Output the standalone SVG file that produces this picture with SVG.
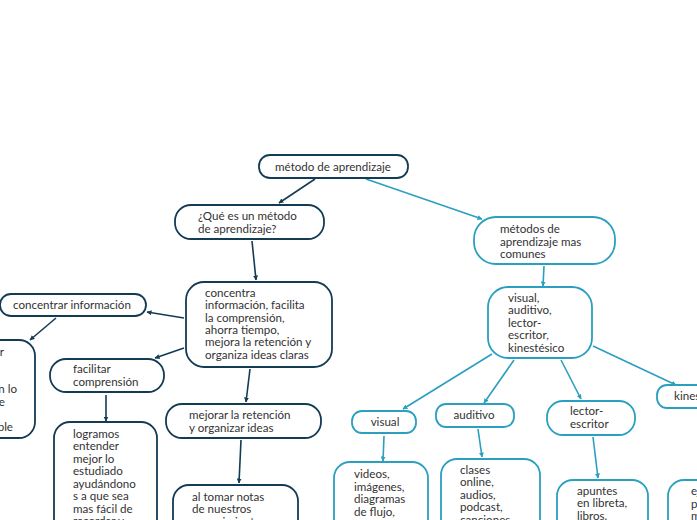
<svg xmlns="http://www.w3.org/2000/svg" width="697" height="520" viewBox="0 0 697 520">
<defs>
<marker id="ad" viewBox="0 0 10 10" refX="9" refY="5" markerWidth="5" markerHeight="5" orient="auto" markerUnits="userSpaceOnUse"><path d="M0,0 L10,5 L0,10 z" fill="#133b54"/></marker>
<marker id="ac" viewBox="0 0 10 10" refX="9" refY="5" markerWidth="5" markerHeight="5" orient="auto" markerUnits="userSpaceOnUse"><path d="M0,0 L10,5 L0,10 z" fill="#2a9fc0"/></marker>
<style>
.d{fill:#fff;stroke:#133b54;stroke-width:1.8}
.c{fill:#fff;stroke:#2a9fc0;stroke-width:1.8}
text{font-family:"Lato","Noto Sans","Liberation Sans",sans-serif;font-size:11.6px;fill:#333}
.m{text-anchor:middle}
.e{text-anchor:end}
.ld{stroke:#133b54;stroke-width:1.6;fill:none;marker-end:url(#ad)}
.lc{stroke:#2a9fc0;stroke-width:1.6;fill:none;marker-end:url(#ac)}
</style>
</defs>
<rect width="697" height="520" fill="#fff"/>
<g id="connectors">
<line class="ld" x1="315" y1="179" x2="279" y2="203"/>
<line class="ld" x1="252" y1="241" x2="256" y2="280"/>
<line class="ld" x1="184" y1="318" x2="147" y2="312"/>
<line class="ld" x1="184" y1="348" x2="155" y2="358"/>
<line class="ld" x1="250" y1="369" x2="246" y2="402"/>
<line class="ld" x1="56" y1="318" x2="30" y2="340"/>
<line class="ld" x1="106" y1="395" x2="106" y2="421"/>
<line class="ld" x1="241" y1="440" x2="239" y2="483"/>
<line class="lc" x1="366" y1="179" x2="482" y2="219"/>
<line class="lc" x1="544" y1="266" x2="543" y2="286"/>
<line class="lc" x1="492" y1="354" x2="403" y2="409"/>
<line class="lc" x1="514" y1="360" x2="484" y2="403"/>
<line class="lc" x1="561" y1="360" x2="581" y2="399"/>
<line class="lc" x1="593" y1="346" x2="676" y2="385"/>
<line class="lc" x1="384" y1="436" x2="383" y2="461"/>
<line class="lc" x1="478" y1="429" x2="482" y2="457"/>
<line class="lc" x1="593" y1="437" x2="598" y2="478"/>
</g>
<g id="n-root"><rect class="d" x="259" y="155" width="149" height="23" rx="11"/><text class="m" x="333" y="171">método de aprendizaje</text></g>
<g id="n-que"><rect class="d" x="175" y="205" width="149" height="34" rx="16"/><text x="198" y="220">¿Qué es un método</text><text x="198" y="233">de aprendizaje?</text></g>
<g id="n-metodos"><rect class="c" x="474" y="217" width="141" height="47" rx="22"/><text x="500" y="233">métodos de</text><text x="500" y="246">aprendizaje mas</text><text x="500" y="258">comunes</text></g>
<g id="n-tipos"><rect class="c" x="488" y="287" width="104" height="71" rx="20"/><text x="508" y="302">visual,</text><text x="508" y="314">auditivo,</text><text x="508" y="327">lector-</text><text x="508" y="339">escritor,</text><text x="508" y="352">kinestésico</text></g>
<g id="n-concentra"><rect class="d" x="186" y="282" width="146" height="85" rx="18"/><text x="205" y="297">concentra</text><text x="205" y="309">información, facilita</text><text x="205" y="322">la comprensión,</text><text x="205" y="334">ahorra tiempo,</text><text x="205" y="346">mejora la retención y</text><text x="205" y="359">organiza ideas claras</text></g>
<g id="n-concentrar"><rect class="d" x="0" y="294" width="146" height="22" rx="11"/><text x="13" y="309">concentrar información</text></g>
<g id="n-left"><rect class="d" x="-40" y="340" width="75" height="98" rx="16"/><text class="e" x="4" y="356">permite enfocar</text><text class="e" x="-4" y="368">datos</text><text class="e" x="-4" y="381">clave</text><text class="e" x="17" y="393">quedarnos con lo</text><text class="e" x="5" y="406">importante</text><text class="e" x="-4" y="418">de forma</text><text class="e" x="13" y="431">recordable</text></g>
<g id="n-facilitar"><rect class="d" x="50" y="359" width="114" height="33" rx="16"/><text x="73" y="373">facilitar</text><text x="73" y="386">comprensión</text></g>
<g id="n-logramos"><rect class="d" x="54" y="422" width="103" height="120" rx="16"/><text x="73" y="438">logramos</text><text x="73" y="450">entender</text><text x="73" y="463">mejor lo</text><text x="73" y="475">estudiado</text><text x="73" y="488">ayudándono</text><text x="73" y="500">s a que sea</text><text x="73" y="513">mas fácil de</text><text x="73" y="525">recordar y</text></g>
<g id="n-mejorar"><rect class="d" x="166" y="404" width="155" height="34" rx="16"/><text x="189" y="419">mejorar la retención</text><text x="189" y="432">y organizar ideas</text></g>
<g id="n-notas"><rect class="d" x="173" y="485" width="125" height="60" rx="16"/><text x="192" y="501">al tomar notas</text><text x="192" y="513">de nuestros</text><text x="192" y="526">conocimientos</text></g>
<g id="n-visual"><rect class="c" x="352" y="411" width="64" height="22" rx="10"/><text class="m" x="385" y="426">visual</text></g>
<g id="n-auditivo"><rect class="c" x="436" y="404" width="78" height="23" rx="10"/><text class="m" x="474" y="419">auditivo</text></g>
<g id="n-lector"><rect class="c" x="547" y="401" width="88" height="34" rx="16"/><text x="570" y="415">lector-</text><text x="570" y="428">escritor</text></g>
<g id="n-kines"><rect class="c" x="657" y="385" width="80" height="23" rx="10"/><text x="674" y="400">kinestésico</text></g>
<g id="n-videos"><rect class="c" x="334" y="462" width="94" height="80" rx="16"/><text x="354" y="478">videos,</text><text x="354" y="491">imágenes,</text><text x="354" y="503">diagramas</text><text x="354" y="516">de flujo,</text></g>
<g id="n-clases"><rect class="c" x="441" y="459" width="99" height="80" rx="16"/><text x="460" y="474">clases</text><text x="460" y="486">online,</text><text x="460" y="499">audios,</text><text x="460" y="511">podcast,</text><text x="460" y="524">canciones</text></g>
<g id="n-apuntes"><rect class="c" x="557" y="480" width="91" height="60" rx="16"/><text x="577" y="495">apuntes</text><text x="577" y="507">en libreta,</text><text x="577" y="520">libros.</text></g>
<g id="n-kin2"><rect class="c" x="668" y="480" width="60" height="60" rx="16"/><text x="691" y="495">ejercicios,</text><text x="691" y="508">prácticas,</text><text x="691" y="520">manuales</text></g>
</svg>
